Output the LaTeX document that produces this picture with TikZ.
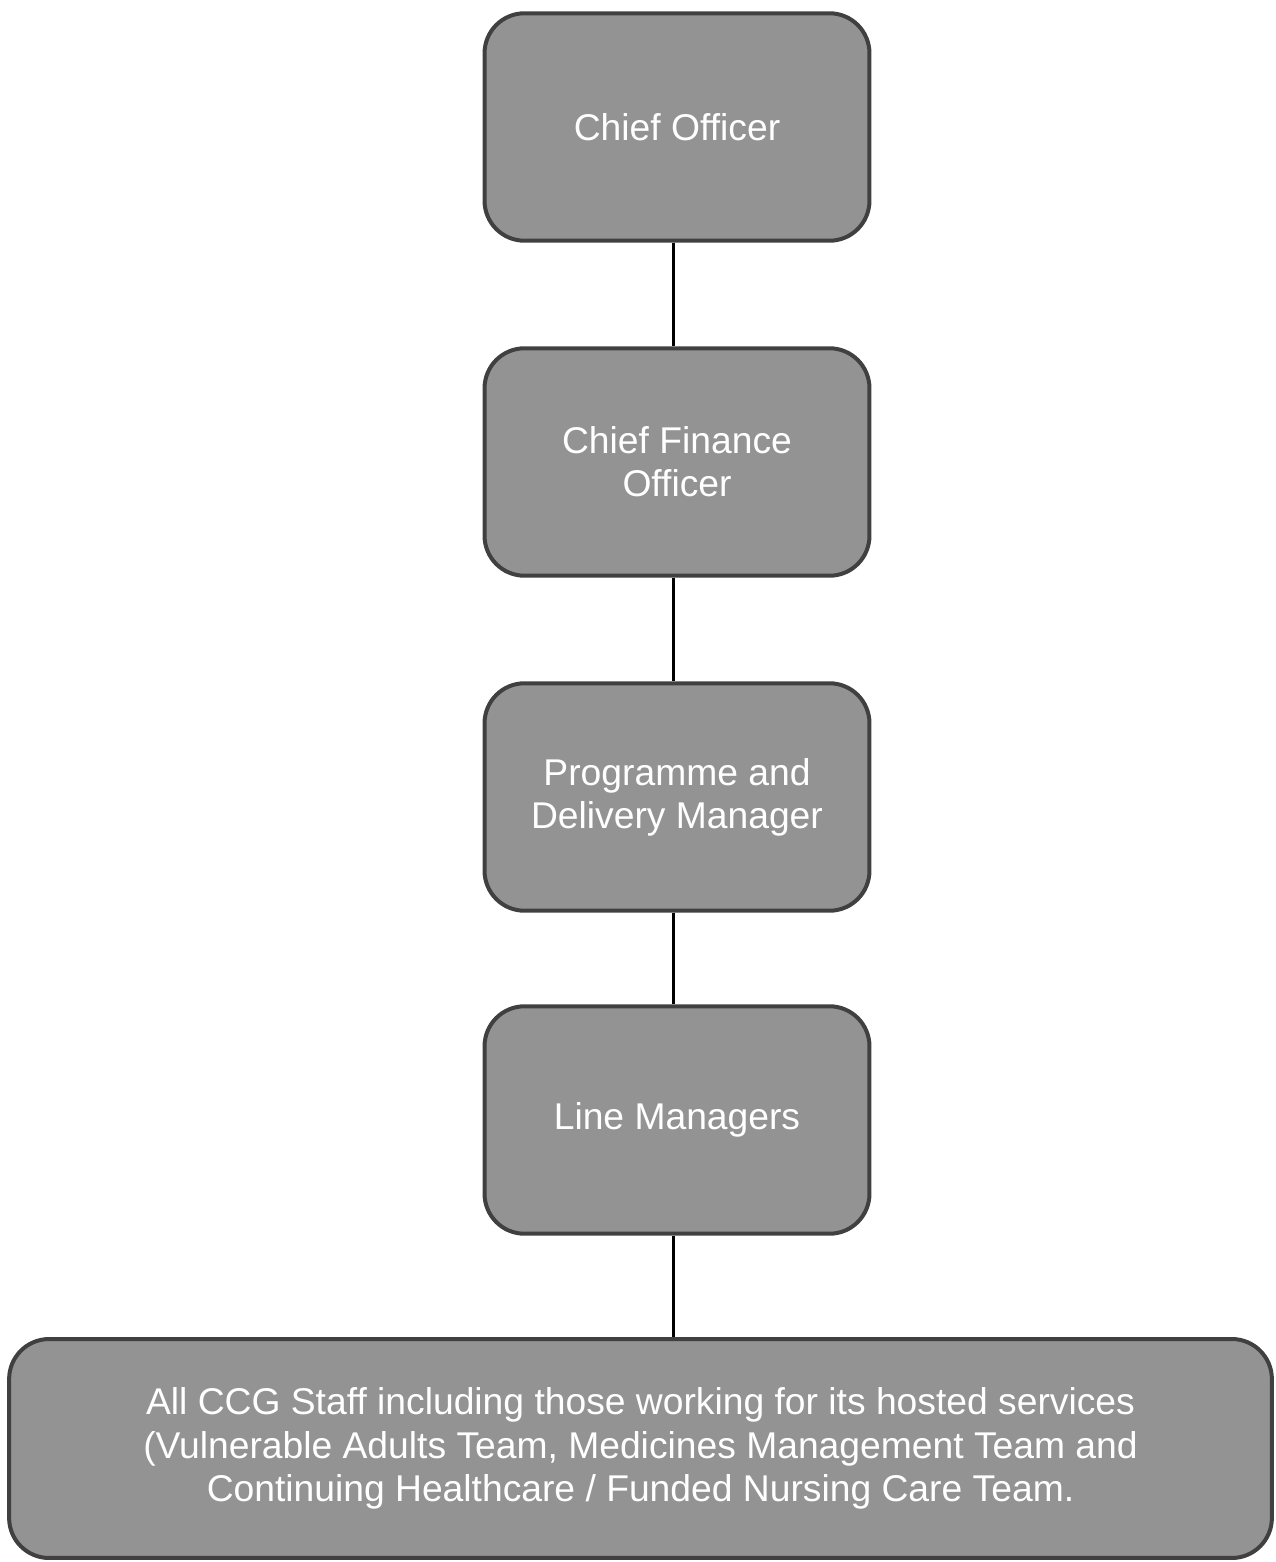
\documentclass[tikz,border=0pt]{standalone}
\usepackage{fontspec}
\setmainfont{Liberation Sans}
\usepackage{tikz}
\usetikzlibrary{scopes}
\usetikzlibrary{positioning}

\definecolor{boxfill}{HTML}{939393}
\definecolor{boxline}{HTML}{404040}

\tikzset{
    post/.style={draw=boxline, fill=boxfill, line width=0.08cm, rounded corners=0.8cm,
        minimum width=7.7cm, minimum height=4.55cm, align=center, text=white,
        font=\fontsize{21.2}{24.6}\selectfont},
    link/.style={draw=black, line width=0.06cm}
}

\begin{document}
\begin{tikzpicture}[x=0.02cm, y=-0.02cm]
        \useasboundingbox (0,0) rectangle (1275,1562);

        \node[post] (chief) at (677,127) {Chief Officer};
        \node[post] (finance) at (677,462) {Chief Finance\\Officer};
        \node[post] (programme) at (677,797) {Programme and\\Delivery Manager};
        \node[post] (linemgr) at (677,1120) {Line Managers};
        \node[post, minimum width=25.26cm, minimum height=4.38cm] (staff) at (640.5,1448.5)
            {All CCG Staff including those working for its hosted services\\
             (Vulnerable Adults Team, Medicines Management Team and\\
             Continuing Healthcare / Funded Nursing Care Team.};

        % reporting lines
        {[link]
            \draw ([xshift=-0.07cm]chief.south) -- ([xshift=-0.07cm]finance.north);
            \draw ([xshift=-0.07cm]finance.south) -- ([xshift=-0.07cm]programme.north);
            \draw ([xshift=-0.07cm]programme.south) -- ([xshift=-0.07cm]linemgr.north);
            \draw ([xshift=-0.07cm]linemgr.south) -- ([xshift=-0.07cm]linemgr.south |- staff.north);
        }
    \end{tikzpicture}
\end{document}
